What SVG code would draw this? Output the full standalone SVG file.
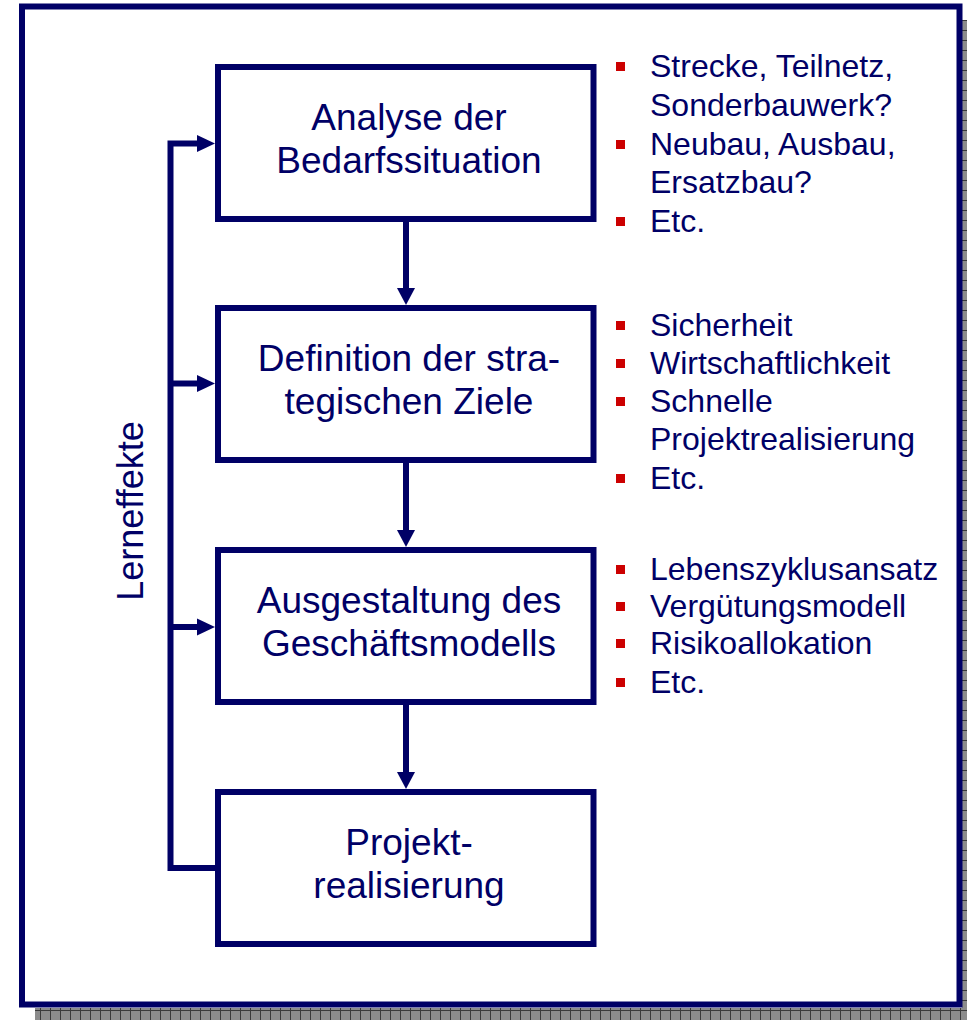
<svg xmlns="http://www.w3.org/2000/svg" width="967" height="1020" viewBox="0 0 967 1020">
<style>
.box{fill:#fff;stroke:#000066;stroke-width:6}
.conn{stroke:#000066;stroke-width:6;fill:none}
.bt{font-family:"Liberation Sans",Arial,sans-serif;font-size:37px;fill:#000066;text-anchor:middle}
.lt{font-family:"Liberation Sans",Arial,sans-serif;font-size:36px;fill:#000066;text-anchor:middle}
.bl{font-family:"Liberation Sans",Arial,sans-serif;font-size:32px;fill:#000066}
.sq{fill:#CC0000}
</style>
<defs>
<pattern id="hatch" width="10" height="10" patternUnits="userSpaceOnUse">
<rect width="10" height="10" fill="#8c8c8c"/>
<path d="M0 0.5H10M0.5 0V10" stroke="#3a3a3a" stroke-width="1"/>
</pattern>
</defs>
<rect width="967" height="1020" fill="#fff"/>
<g id="frame">
<rect x="35" y="1008" width="932" height="12" fill="url(#hatch)"/>
<rect x="962" y="20" width="5" height="988" fill="url(#hatch)"/>
<rect x="22" y="6.5" width="937.5" height="998" fill="#fff" stroke="#000066" stroke-width="6"/>
</g>
<g id="connectors">
<line class="conn" x1="406" y1="222" x2="406" y2="289"/>
<path d="M397 288L415 288L406 305z" fill="#000066"/>
<line class="conn" x1="406" y1="463" x2="406" y2="531"/>
<path d="M397 530L415 530L406 547z" fill="#000066"/>
<line class="conn" x1="406" y1="705" x2="406" y2="773"/>
<path d="M397 772L415 772L406 789z" fill="#000066"/>
<path class="conn" d="M218 868H170.5V143.5H199"/>
<path d="M197 135L215 143.5L197 152z" fill="#000066"/>
<line class="conn" x1="170.5" y1="383.5" x2="199" y2="383.5"/>
<path d="M197 375L215 383.5L197 392z" fill="#000066"/>
<line class="conn" x1="170.5" y1="627" x2="199" y2="627"/>
<path d="M197 618.5L215 627L197 635.5z" fill="#000066"/>
</g>
<g id="lerneffekte">
<text class="lt" transform="translate(143,511) rotate(-90)">Lerneffekte</text>
</g>
<g id="node1">
<rect class="box" x="218" y="67" width="375.5" height="152"/>
<text class="bt" x="409" y="130">Analyse der</text>
<text class="bt" x="409" y="173">Bedarfssituation</text>
</g>
<g id="node2">
<rect class="box" x="218" y="308" width="375.5" height="152"/>
<text class="bt" x="409" y="371">Definition der stra-</text>
<text class="bt" x="409" y="414">tegischen Ziele</text>
</g>
<g id="node3">
<rect class="box" x="218" y="550" width="375.5" height="152"/>
<text class="bt" x="409" y="613">Ausgestaltung des</text>
<text class="bt" x="409" y="656">Geschäftsmodells</text>
</g>
<g id="node4">
<rect class="box" x="218" y="792" width="375.5" height="152"/>
<text class="bt" x="409" y="855">Projekt-</text>
<text class="bt" x="409" y="898">realisierung</text>
</g>
<g id="bullets1">
<rect class="sq" x="616" y="62" width="9" height="9"/>
<text class="bl" x="650" y="77">Strecke, Teilnetz,</text>
<text class="bl" x="650" y="116">Sonderbauwerk?</text>
<rect class="sq" x="616" y="140" width="9" height="9"/>
<text class="bl" x="650" y="155">Neubau, Ausbau,</text>
<text class="bl" x="650" y="193">Ersatzbau?</text>
<rect class="sq" x="616" y="217" width="9" height="9"/>
<text class="bl" x="650" y="232">Etc.</text>
</g>
<g id="bullets2">
<rect class="sq" x="616" y="321" width="9" height="9"/>
<text class="bl" x="650" y="336">Sicherheit</text>
<rect class="sq" x="616" y="359" width="9" height="9"/>
<text class="bl" x="650" y="374">Wirtschaftlichkeit</text>
<rect class="sq" x="616" y="397" width="9" height="9"/>
<text class="bl" x="650" y="412">Schnelle</text>
<text class="bl" x="650" y="450">Projektrealisierung</text>
<rect class="sq" x="616" y="474" width="9" height="9"/>
<text class="bl" x="650" y="489">Etc.</text>
</g>
<g id="bullets3">
<rect class="sq" x="616" y="565" width="9" height="9"/>
<text class="bl" x="650" y="580">Lebenszyklusansatz</text>
<rect class="sq" x="616" y="602" width="9" height="9"/>
<text class="bl" x="650" y="617">Vergütungsmodell</text>
<rect class="sq" x="616" y="639" width="9" height="9"/>
<text class="bl" x="650" y="654">Risikoallokation</text>
<rect class="sq" x="616" y="678" width="9" height="9"/>
<text class="bl" x="650" y="693">Etc.</text>
</g>
</svg>
